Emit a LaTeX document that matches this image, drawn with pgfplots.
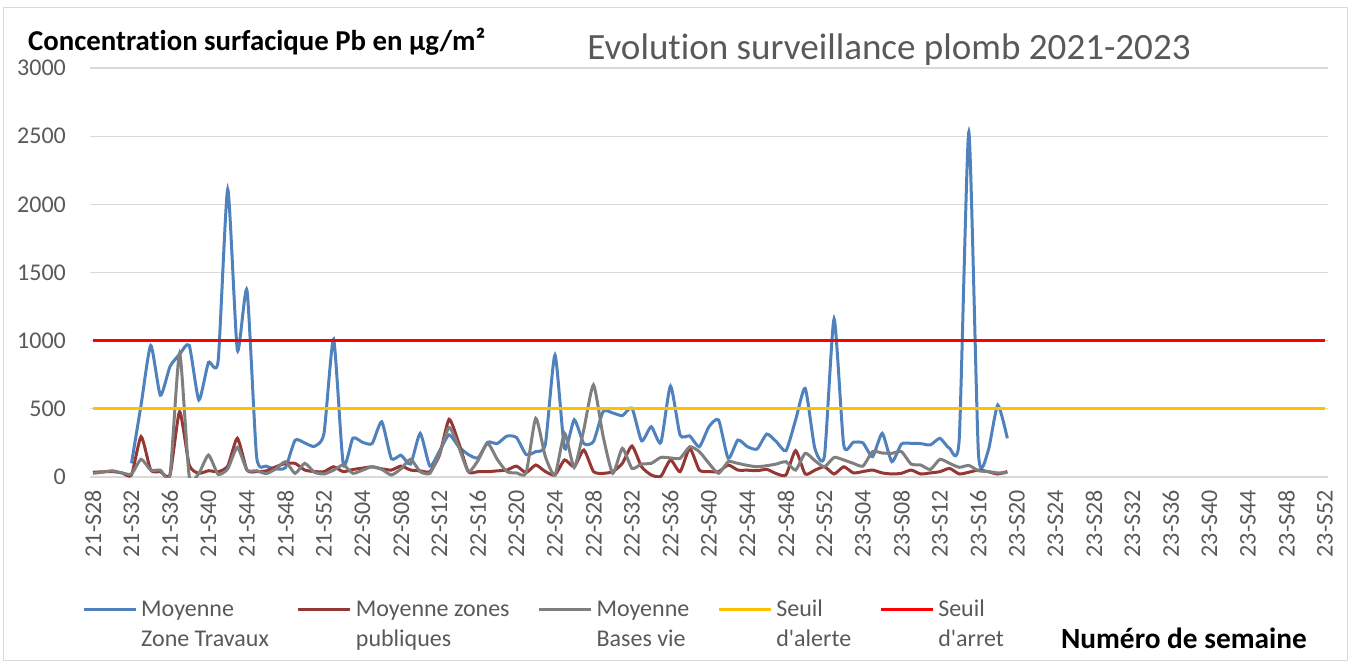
\documentclass[border=0pt]{standalone}
\usepackage{fontspec}
\setmainfont{Carlito}[Ligatures={TeX,NoCommon}]
\newfontfamily\nomapfont{Carlito}[Ligatures=TeXOff]
\usepackage{pgfplots}
\pgfplotsset{compat=1.18}
\definecolor{cblue}{HTML}{4F81BD}
\definecolor{cdred}{HTML}{953735}
\definecolor{cgray}{HTML}{7F7F7F}
\definecolor{cyellow}{HTML}{FFC000}
\definecolor{cred}{HTML}{FF0000}
\definecolor{gridgray}{HTML}{D9D9D9}
\definecolor{labelgray}{HTML}{595959}
\begin{document}
\begin{tikzpicture}
\useasboundingbox (-67.575pt,-140.25pt) rectangle (947.175pt,357.75pt);
\draw[gridgray, line width=0.75pt] (-64.6pt,-137.25pt) rectangle (942.7pt,351.75pt);
\begin{axis}[
  at={(0pt,0pt)}, anchor=south west,
  scale only axis, width=928.3pt, height=306.75pt,
  xmin=-0.3, xmax=128.3, ymin=0, ymax=3000,
  separate axis lines,
  axis x line*=bottom, axis y line*=left,
  x axis line style={draw=gridgray, line width=1pt, -},
  y axis line style={draw=none},
  ymajorgrids, grid style={gridgray, line width=0.9pt},
  major tick length=0pt,
  ytick={0,500,1000,1500,2000,2500,3000},
  scaled y ticks=false,
  /pgf/number format/assume math mode=true,
  /pgf/number format/1000 sep={},
  yticklabel style={font=\fontsize{18}{21.6}\selectfont, text=labelgray, anchor=east, inner sep=0pt, xshift=-18pt},
  xtick={0,4,...,128},
  xticklabels={21-S28,21-S32,21-S36,21-S40,21-S44,21-S48,21-S52,22-S04,22-S08,22-S12,22-S16,22-S20,22-S24,22-S28,22-S32,22-S36,22-S40,22-S44,22-S48,22-S52,23-S04,23-S08,23-S12,23-S16,23-S20,23-S24,23-S28,23-S32,23-S36,23-S40,23-S44,23-S48,23-S52},
  xticklabel style={font=\fontsize{18}{21.6}\selectfont, text=labelgray, rotate=90, anchor=east, inner xsep=9.75pt, inner ysep=0pt},
  legend columns=5,
  legend cell align=left,
  legend image code/.code={\draw[#1, line width=2.25pt] (0pt,5.5pt) -- (39pt,5.5pt);},
  legend style={at={(-0.00657,-0.2898)}, anchor=north west, draw=none, fill=none, inner sep=0pt,
    font=\fontsize{18}{22.5}\selectfont, text=labelgray,
    nodes={anchor=base west, inner sep=0pt},
    /tikz/every odd column/.append style={column sep=3pt},
    /tikz/every even column/.append style={column sep=21pt}},
  every axis plot/.append style={line width=2.25pt, smooth, tension=0.35},
]
\addplot[cblue] table {
x y
4 100
5 530
6 965
7 600
8 810
9 900
10 965
11 565
12 840
13 850
14 2110
15 930
16 1370
17 150
18 80
19 60
20 70
21 270
22 250
23 225
24 320
25 1010
26 95
27 285
28 255
29 245
30 405
31 135
32 160
33 95
34 320
35 80
36 190
37 310
38 222
39 165
40 140
41 255
42 245
43 300
44 290
45 165
46 186
47 240
48 895
49 210
50 420
51 245
52 260
53 480
54 470
55 450
56 505
57 265
58 369
59 252
60 667
61 308
62 301
63 222
64 369
65 418
66 137
67 271
68 222
69 205
70 315
71 259
72 193
73 418
74 650
75 210
76 154
77 1160
78 235
79 255
80 250
81 149
82 320
83 112
84 242
85 247
86 245
87 235
88 284
89 210
90 276
91 2530
92 170
93 190
94 528
95 284
};
\addlegendentry{\begin{tabular}[t]{@{}l@{}}Moyenne\\Zone Travaux\end{tabular}}
\addplot[cdred] table {
x y
0 35
1 38
2 40
3 30
4 15
5 296
6 51
7 39
8 15
9 479
10 88
11 27
12 46
13 39
14 80
15 284
16 51
17 39
18 45
19 75
20 100
21 100
22 51
23 40
24 39
25 75
26 39
27 55
28 65
29 75
30 60
31 51
32 80
33 51
34 45
35 39
36 160
37 423
38 250
39 39
40 39
41 39
42 45
43 51
44 80
45 32
46 88
47 40
48 15
49 125
50 75
51 198
52 40
53 27
54 39
55 100
56 227
57 75
58 15
59 5
60 125
61 39
62 210
63 51
64 40
65 39
66 88
67 51
68 50
69 46
70 56
71 25
72 15
73 193
74 22
75 50
76 75
77 22
78 75
79 30
80 40
81 51
82 30
83 22
84 27
85 51
86 22
87 30
88 39
89 63
90 22
91 35
92 51
93 39
94 22
95 40
};
\addlegendentry{\begin{tabular}[t]{@{}l@{}}Moyenne zones\\publiques\end{tabular}}
\addplot[cgray] table {
x y
0 27
1 35
2 46
3 30
4 22
5 130
6 51
7 51
8 15
9 907
10 5
11 27
12 161
13 20
14 60
15 218
16 51
17 46
18 25
19 60
20 112
21 27
22 100
23 35
24 22
25 50
26 88
27 27
28 50
29 75
30 56
31 15
32 60
33 130
34 39
35 27
36 170
37 364
38 220
39 40
40 120
41 247
42 130
43 39
44 30
45 30
46 430
47 150
48 15
49 320
50 70
51 350
52 675
53 300
54 27
55 210
56 63
57 95
58 100
59 144
60 140
61 137
62 222
63 186
64 100
65 27
66 112
67 100
68 85
69 75
70 83
71 95
72 112
73 51
74 174
75 120
76 75
77 144
78 125
79 100
80 80
81 186
82 176
83 174
84 186
85 95
86 88
87 55
88 130
89 100
90 71
91 85
92 46
93 40
94 30
95 32
};
\addlegendentry{\begin{tabular}[t]{@{}l@{}}Moyenne\\Bases vie\end{tabular}}
\addplot[cyellow] coordinates {(0,500) (128,500)};
\addlegendentry{\begin{tabular}[t]{@{}l@{}}Seuil\\d{\nomapfont '}alerte\end{tabular}}
\addplot[cred] coordinates {(0,1000) (128,1000)};
\addlegendentry{\begin{tabular}[t]{@{}l@{}}Seuil\\d{\nomapfont '}arret\end{tabular}}
\end{axis}
\node[anchor=west, inner sep=0pt, font=\bfseries\fontsize{21.6}{26}\selectfont] at (-46.6pt,326.25pt) {Concentration surfacique Pb en µg/m²};
\node[inner sep=0pt, text=labelgray, font=\fontsize{27.8}{33}\selectfont] at (599.2pt,320.25pt) {Evolution surveillance plomb 2021-2023};
\node[inner sep=0pt, font=\bfseries\fontsize{22}{26}\selectfont] at (820.4pt,-120.75pt) {Numéro de semaine};
\end{tikzpicture}
\end{document}
